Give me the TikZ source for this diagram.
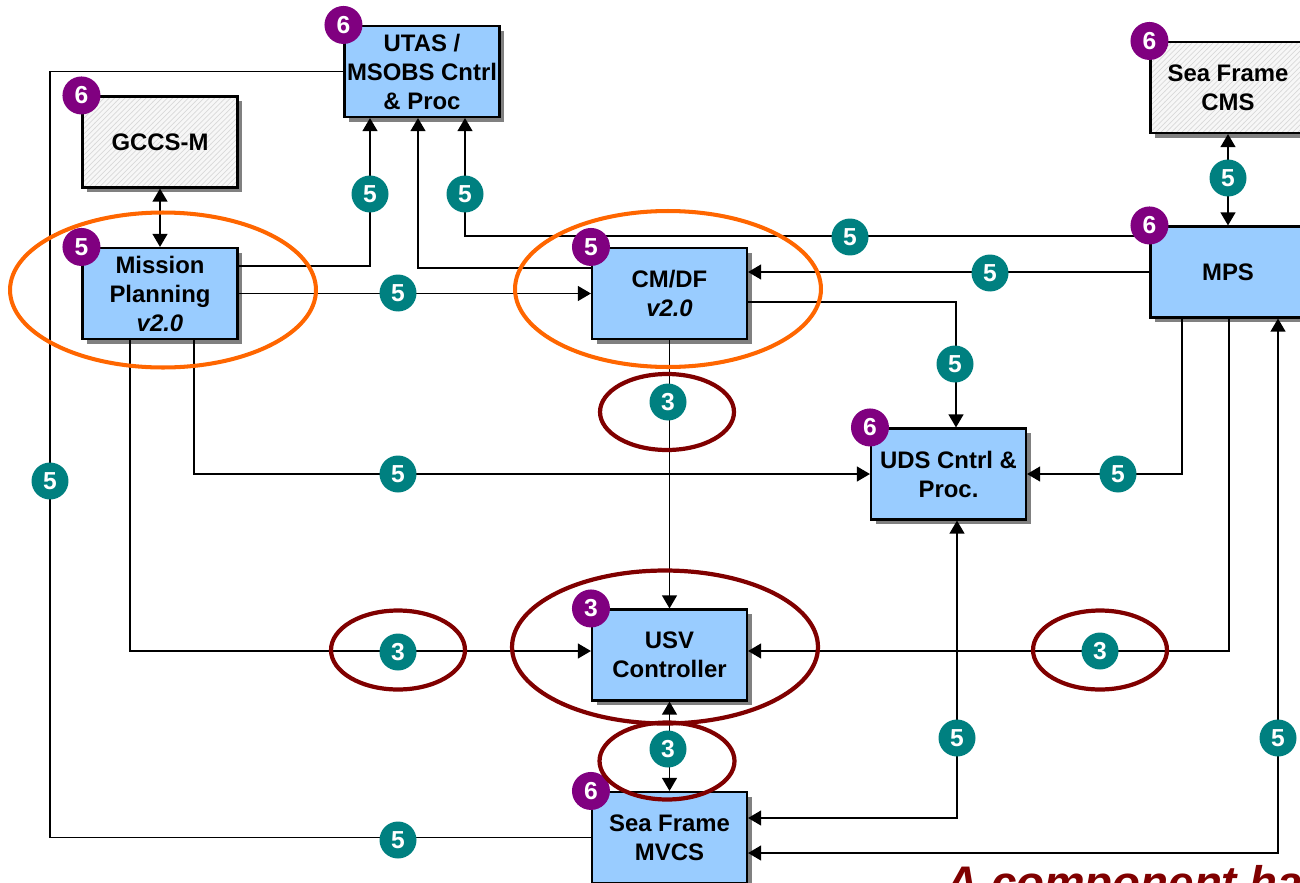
\documentclass[tikz,border=0pt]{standalone}
\usepackage{fontspec}
\setmainfont{Liberation Sans}
\usetikzlibrary{arrows.meta,patterns,shadows}
\definecolor{skyb}{HTML}{99CCFF}
\definecolor{badgepurple}{HTML}{800080}
\definecolor{tagteal}{HTML}{008080}
\definecolor{ringorange}{HTML}{FF6600}
\definecolor{ringred}{HTML}{800000}
\tikzset{
  blk/.style={draw,line width=1.2pt,minimum width=3.1cm,minimum height=1.82cm,inner sep=1pt,
    align=center,font=\bfseries\fontsize{13.6}{16.5}\selectfont,
    drop shadow={opacity=1,fill=gray,shadow xshift=2.8pt,shadow yshift=-2.8pt}},
  bluebox/.style={blk,fill=skyb},
  hatchbox/.style={blk,preaction={fill=gray!6},pattern=north east lines,pattern color=gray!30},
  badge/.style={circle,fill=badgepurple,text=white,minimum size=0.76cm,inner sep=0pt,
    font=\bfseries\fontsize{14}{14}\selectfont},
  tag/.style={circle,fill=tagteal,text=white,minimum size=0.74cm,inner sep=0pt,
    font=\bfseries\fontsize{14}{14}\selectfont},
  lnk/.style={line width=1pt},
  arr/.style={lnk,-{Triangle[length=7.5pt,width=8.5pt]}},
  dbl/.style={lnk,{Triangle[length=7.5pt,width=8.5pt]}-{Triangle[length=7.5pt,width=8.5pt]}},
  ringo/.style={draw=ringorange,line width=2.3pt},
  ringr/.style={draw=ringred,line width=2.4pt}
}

\begin{document}
\begin{tikzpicture}[x=0.02cm,y=-0.02cm]
\useasboundingbox (0,0) rectangle (1300,882);
% boxes
\node[bluebox] (utas) at (422,71.5) {UTAS /\\MSOBS Cntrl\\\& Proc};
\node[hatchbox] (gccs) at (160,142) {GCCS-M};
\node[bluebox] (mp) at (160,293.5) {Mission\\Planning\\\textit{v2.0}};
\node[bluebox] (cmdf) at (669.5,293.5) {CM/DF\\\textit{v2.0}};
\node[hatchbox] (cms) at (1228,87.5) {Sea Frame\\CMS};
\node[bluebox] (mps) at (1228,272) {MPS};
\node[bluebox] (uds) at (948.5,474) {UDS Cntrl \&\\Proc.};
\node[bluebox] (usv) at (669.5,655) {USV\\Controller};
\node[bluebox] (mvcs) at (669.5,837.5) {Sea Frame\\MVCS};

% links
\draw[lnk] (utas.west) -| (50,0 |- mvcs.west) -- (mvcs.west);
\draw[arr] (mp.east |- 0,266) -| (370,0 |- utas.south);
\draw[arr] (cmdf.west |- 0,268) -| (418,0 |- utas.south);
\draw[arr] (mps.west |- 0,236) -| (465,0 |- utas.south);
\draw[arr] (mp.east) -- (cmdf.west);
\draw[arr] (mps.west) -- (cmdf.east |- mps.west);
\draw[arr] (cmdf.east |- 0,302) -| (956,0 |- uds.north);
\draw[arr] (cmdf.south) -- (usv.north);
\draw[arr] (194,0 |- mp.south) |- (uds.west);
\draw[arr] (130,0 |- mp.south) |- (usv.west |- 0,651);
\draw[arr] (1182,0 |- mps.south) |- (uds.east);
\draw[arr] (1229,0 |- mps.south) |- (usv.east |- 0,651);
\draw[dbl] (mvcs.east |- 0,853) -| (1278,0 |- mps.south);
\draw[dbl] (mvcs.east |- 0,818) -| (957,0 |- uds.south);
\draw[dbl] (usv.south) -- (mvcs.north);
\draw[dbl] (gccs.south) -- (mp.north);
\draw[dbl] (cms.south) -- (mps.north);

% numbered tags
\foreach \x/\y/\n [count=\i] in {370/194/5,465/194/5,850/237/5,398/293/5,990/273/5,
  955/364/5,668/402/3,50/481/5,398/474/5,1118/474/5,398/652/3,1100/651/3,
  668/749/3,957/738/5,1278/738/5,398/840/5,1228/178/5}
  \node[tag] (t\i) at (\x,\y) {\n};
\foreach \b/\n in {utas/6,gccs/6,mp/5,cmdf/5,cms/6,mps/6,uds/6,usv/3,mvcs/6}
  \node[badge] (b-\b) at (\b.north west) {\n};

% highlight rings
\draw[ringo] (163,290) ellipse [x radius=3.06cm,y radius=1.55cm];
\draw[ringo] (668,289) ellipse [x radius=3.06cm,y radius=1.56cm];
\draw[ringr] (667,412) ellipse [x radius=1.34cm,y radius=0.76cm];
\draw[ringr] (665,647) ellipse [x radius=3.06cm,y radius=1.53cm];
\draw[ringr] (398,650) ellipse [x radius=1.34cm,y radius=0.79cm];
\draw[ringr] (1100,650) ellipse [x radius=1.34cm,y radius=0.79cm];
\draw[ringr] (667,761) ellipse [x radius=1.35cm,y radius=0.77cm];

\node[anchor=base west,inner sep=0pt,text=ringred,
  font=\bfseries\itshape\fontsize{26}{30}\selectfont] (note) at (945,898) {A component has};
\end{tikzpicture}
\end{document}
